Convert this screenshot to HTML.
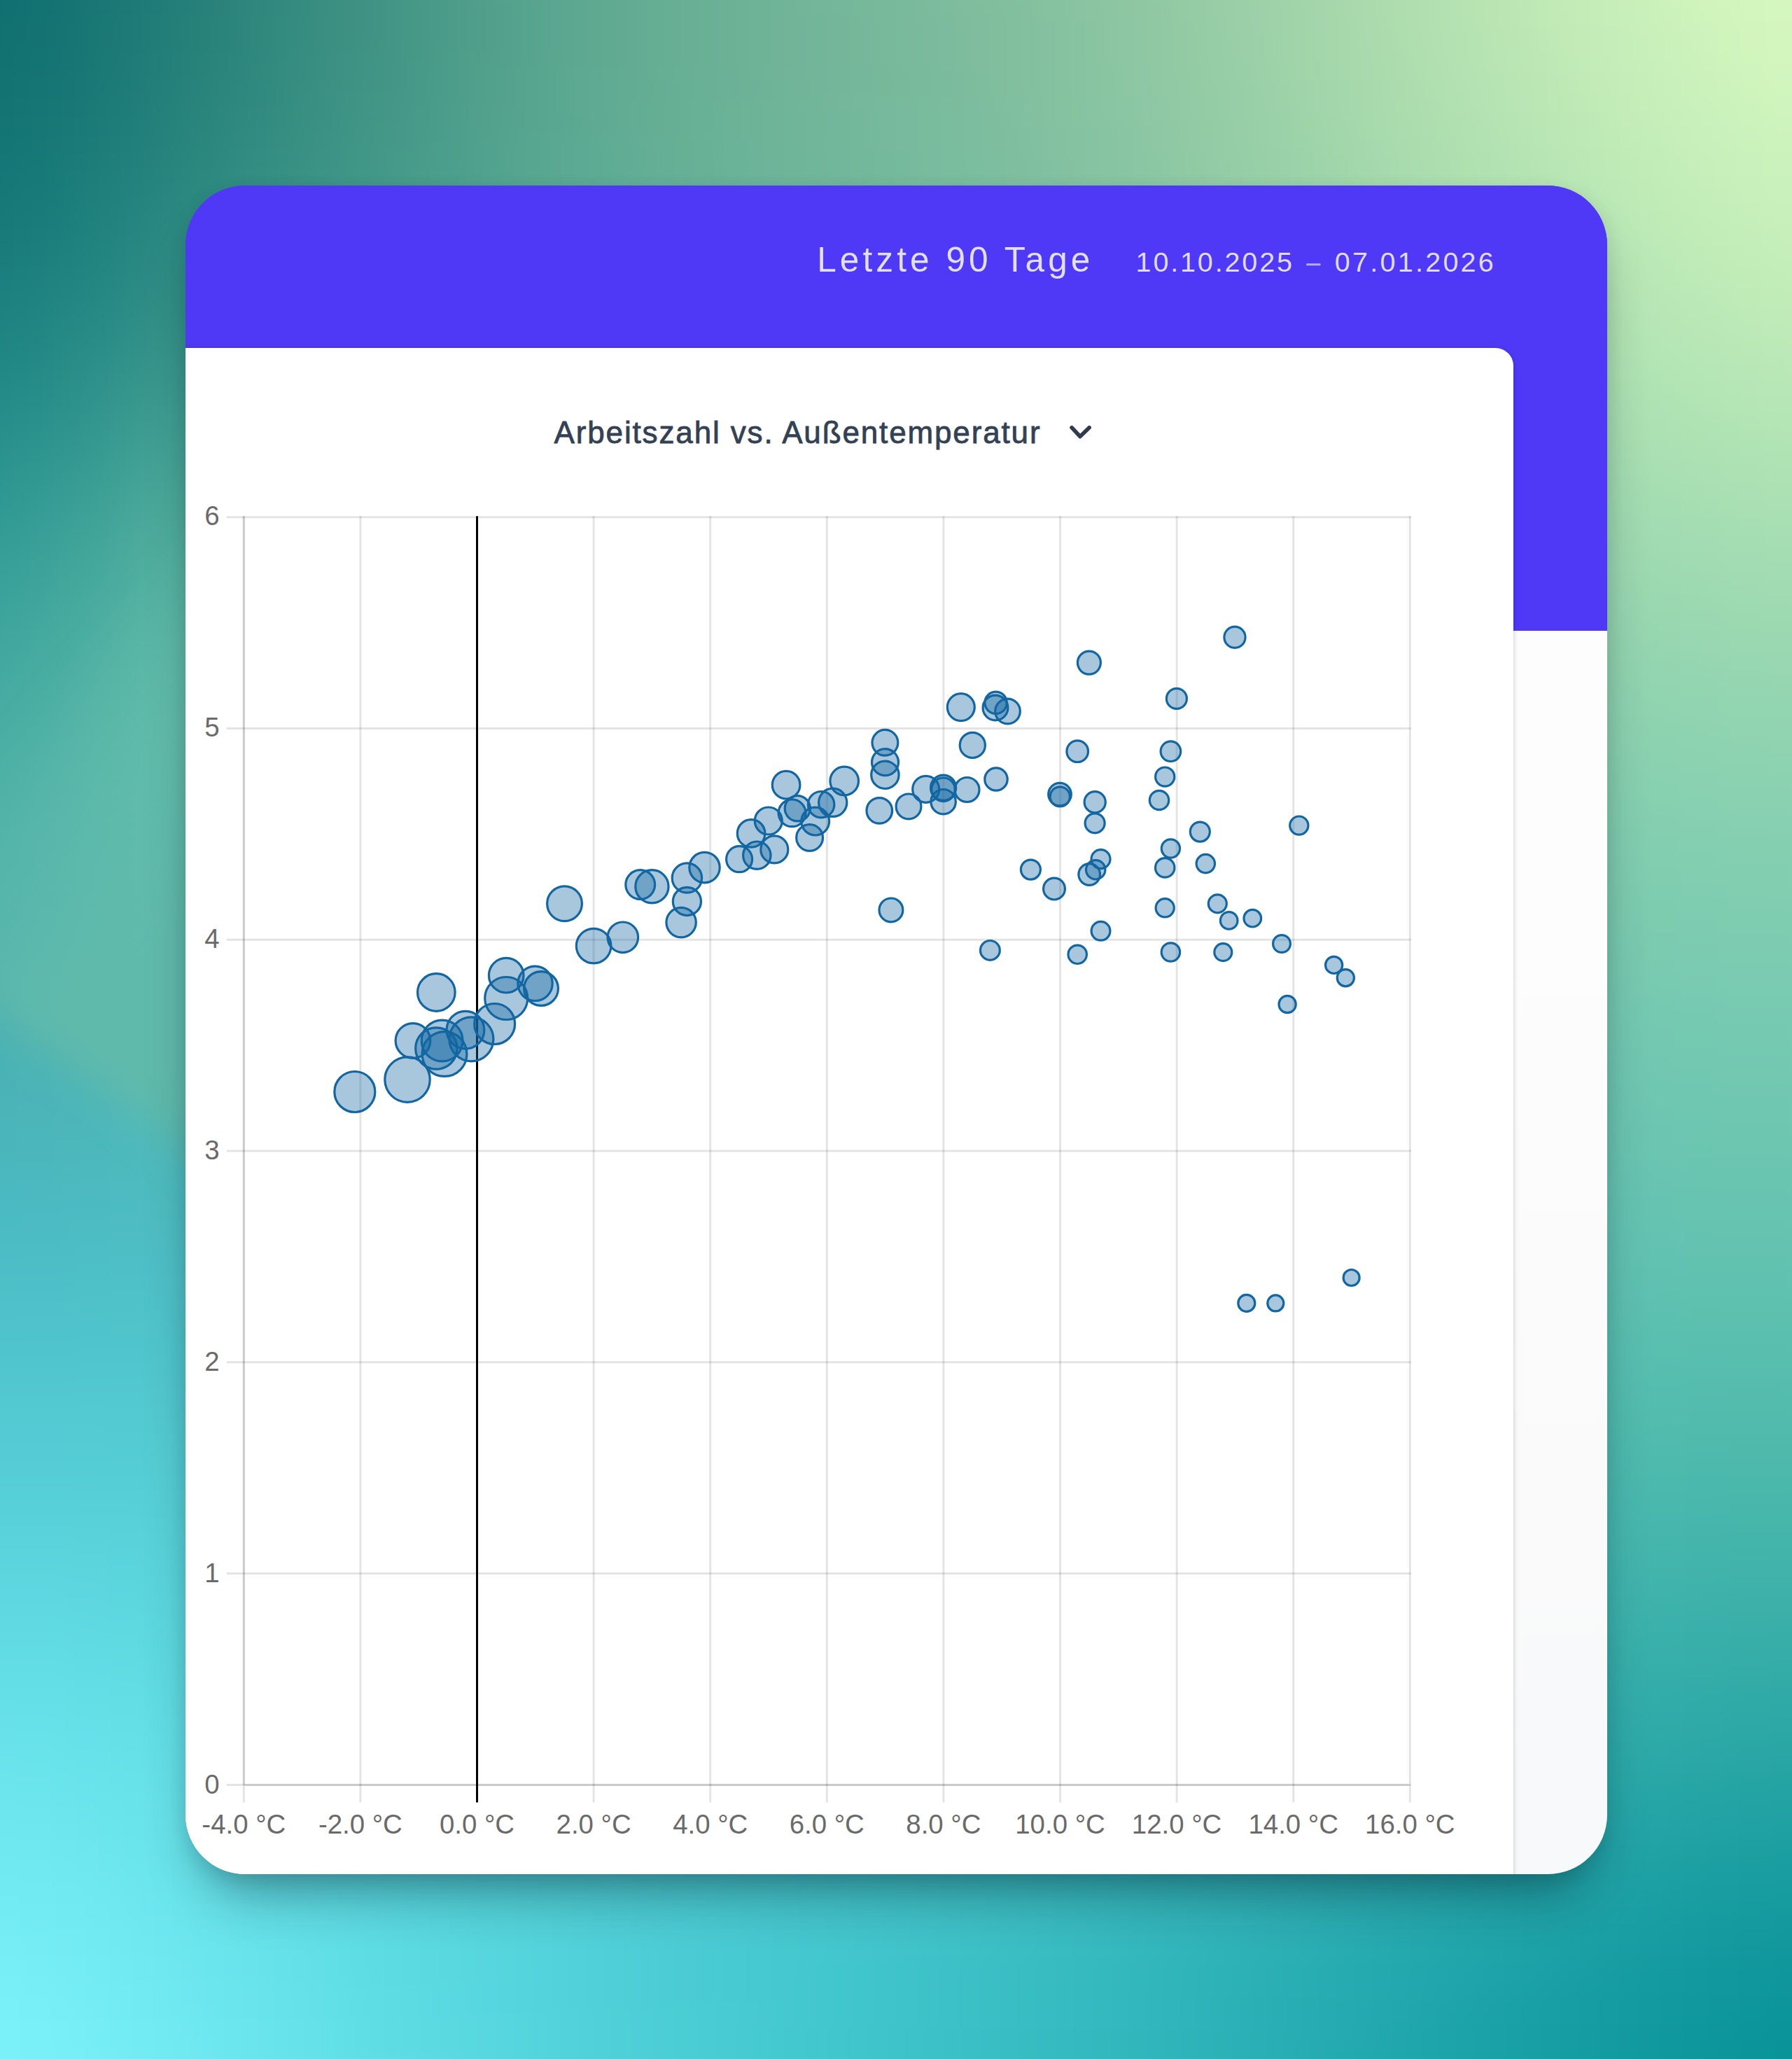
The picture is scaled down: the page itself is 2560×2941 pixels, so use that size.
<!DOCTYPE html>
<html lang="de">
<head>
<meta charset="utf-8">
<title>Arbeitszahl vs. Außentemperatur</title>
<style>
*{box-sizing:border-box;margin:0;padding:0}
html,body{width:2560px;height:2941px;overflow:hidden}
body{position:relative;font-family:"Liberation Sans",sans-serif;
background:#4fb0a8;
}
.bg{position:absolute;left:0;top:0;width:2560px;height:2941px;overflow:hidden}
.mesh{position:absolute;left:-480px;top:-480px;width:3520px;height:4061px;filter:blur(90px)}
.mesh i{position:absolute;display:block;width:161px;height:161px}
.blob{position:absolute;left:-300px;top:300px}
.card{position:absolute;left:264.5px;top:264.5px;width:2031px;height:2412.5px;border-radius:85px;overflow:hidden;
 background:linear-gradient(180deg,#4f39f6 0,#4f39f6 636.2px,#fdfdfd 636.2px,#fdfdfd 45%,#fafafb 75%,#f8f9fa 100%);
 box-shadow:0 48px 80px -28px rgba(0,25,35,0.46), 0 6px 26px rgba(0,25,35,0.10);}
.hero{position:absolute;left:0;top:0;width:100%;height:636.2px;background:#4f39f6}
.panel{position:absolute;left:-20px;top:232.9px;width:1917.8px;bottom:-20px;background:#fff;border-top-right-radius:25.6px;
 box-shadow:0 3px 10px rgba(0,0,0,0.13),0 1px 5px rgba(0,0,0,0.10)}
.h1{position:absolute;white-space:nowrap;color:#e2dffc;font-size:49.5px;line-height:1;letter-spacing:5.1px;left:1167.2px;top:346.1px}
.h2{position:absolute;white-space:nowrap;color:#e0ddfc;font-size:39.5px;line-height:1;letter-spacing:3.26px;left:1622.6px;top:355px}
.h2 b{font-weight:normal;position:absolute;top:0;left:0;letter-spacing:2.85px}
.h2 u{text-decoration:none;position:absolute;top:0;left:284.2px;letter-spacing:3.26px}
.h2 i{font-style:normal;position:absolute;left:243.8px;top:2.2px;font-size:35px;letter-spacing:0;color:rgba(255,255,255,0.57);-webkit-text-stroke:0.5px rgba(255,255,255,0.57)}
.title{position:absolute;white-space:nowrap;color:#334155;font-size:44px;line-height:1;left:791.5px;top:596px;letter-spacing:1.86px;-webkit-text-stroke:0.8px #334155}
.chev{position:absolute;left:1519px;top:595px}
.chart{position:absolute;left:0;top:0}
</style>
</head>
<body>
<div class="bg"><div class="mesh"><i style="left:0px;top:0px;background:rgb(12,108,110)"></i><i style="left:160px;top:0px;background:rgb(12,108,110)"></i><i style="left:320px;top:0px;background:rgb(12,108,110)"></i><i style="left:480px;top:0px;background:rgb(18,113,113)"></i><i style="left:640px;top:0px;background:rgb(33,124,119)"></i><i style="left:800px;top:0px;background:rgb(50,136,125)"></i><i style="left:960px;top:0px;background:rgb(67,149,132)"></i><i style="left:1120px;top:0px;background:rgb(85,162,140)"></i><i style="left:1280px;top:0px;background:rgb(99,171,146)"></i><i style="left:1440px;top:0px;background:rgb(109,177,150)"></i><i style="left:1600px;top:0px;background:rgb(118,183,154)"></i><i style="left:1760px;top:0px;background:rgb(126,188,157)"></i><i style="left:1920px;top:0px;background:rgb(136,194,160)"></i><i style="left:2080px;top:0px;background:rgb(148,202,164)"></i><i style="left:2240px;top:0px;background:rgb(162,212,169)"></i><i style="left:2400px;top:0px;background:rgb(176,222,175)"></i><i style="left:2560px;top:0px;background:rgb(190,232,180)"></i><i style="left:2720px;top:0px;background:rgb(202,240,186)"></i><i style="left:2880px;top:0px;background:rgb(213,247,190)"></i><i style="left:3040px;top:0px;background:rgb(218,250,192)"></i><i style="left:3200px;top:0px;background:rgb(218,250,192)"></i><i style="left:3360px;top:0px;background:rgb(218,250,192)"></i><i style="left:0px;top:160px;background:rgb(12,108,110)"></i><i style="left:160px;top:160px;background:rgb(12,108,110)"></i><i style="left:320px;top:160px;background:rgb(12,108,110)"></i><i style="left:480px;top:160px;background:rgb(18,113,113)"></i><i style="left:640px;top:160px;background:rgb(33,124,119)"></i><i style="left:800px;top:160px;background:rgb(50,136,125)"></i><i style="left:960px;top:160px;background:rgb(67,149,132)"></i><i style="left:1120px;top:160px;background:rgb(85,162,140)"></i><i style="left:1280px;top:160px;background:rgb(99,171,146)"></i><i style="left:1440px;top:160px;background:rgb(109,177,150)"></i><i style="left:1600px;top:160px;background:rgb(118,183,154)"></i><i style="left:1760px;top:160px;background:rgb(126,188,157)"></i><i style="left:1920px;top:160px;background:rgb(136,194,160)"></i><i style="left:2080px;top:160px;background:rgb(148,202,164)"></i><i style="left:2240px;top:160px;background:rgb(162,212,169)"></i><i style="left:2400px;top:160px;background:rgb(176,222,175)"></i><i style="left:2560px;top:160px;background:rgb(190,232,180)"></i><i style="left:2720px;top:160px;background:rgb(202,240,186)"></i><i style="left:2880px;top:160px;background:rgb(213,247,190)"></i><i style="left:3040px;top:160px;background:rgb(218,250,192)"></i><i style="left:3200px;top:160px;background:rgb(218,250,192)"></i><i style="left:3360px;top:160px;background:rgb(218,250,192)"></i><i style="left:0px;top:320px;background:rgb(12,108,110)"></i><i style="left:160px;top:320px;background:rgb(12,108,110)"></i><i style="left:320px;top:320px;background:rgb(12,108,110)"></i><i style="left:480px;top:320px;background:rgb(18,113,113)"></i><i style="left:640px;top:320px;background:rgb(33,124,119)"></i><i style="left:800px;top:320px;background:rgb(50,136,125)"></i><i style="left:960px;top:320px;background:rgb(67,149,132)"></i><i style="left:1120px;top:320px;background:rgb(85,162,140)"></i><i style="left:1280px;top:320px;background:rgb(99,171,146)"></i><i style="left:1440px;top:320px;background:rgb(109,177,150)"></i><i style="left:1600px;top:320px;background:rgb(118,183,154)"></i><i style="left:1760px;top:320px;background:rgb(126,188,157)"></i><i style="left:1920px;top:320px;background:rgb(136,194,160)"></i><i style="left:2080px;top:320px;background:rgb(148,202,164)"></i><i style="left:2240px;top:320px;background:rgb(162,212,169)"></i><i style="left:2400px;top:320px;background:rgb(176,222,175)"></i><i style="left:2560px;top:320px;background:rgb(190,232,180)"></i><i style="left:2720px;top:320px;background:rgb(202,240,186)"></i><i style="left:2880px;top:320px;background:rgb(213,247,190)"></i><i style="left:3040px;top:320px;background:rgb(218,250,192)"></i><i style="left:3200px;top:320px;background:rgb(218,250,192)"></i><i style="left:3360px;top:320px;background:rgb(218,250,192)"></i><i style="left:0px;top:480px;background:rgb(14,110,111)"></i><i style="left:160px;top:480px;background:rgb(14,110,111)"></i><i style="left:320px;top:480px;background:rgb(14,110,111)"></i><i style="left:480px;top:480px;background:rgb(20,115,114)"></i><i style="left:640px;top:480px;background:rgb(34,126,120)"></i><i style="left:800px;top:480px;background:rgb(51,138,126)"></i><i style="left:960px;top:480px;background:rgb(67,149,133)"></i><i style="left:1120px;top:480px;background:rgb(84,162,141)"></i><i style="left:1280px;top:480px;background:rgb(98,171,146)"></i><i style="left:1440px;top:480px;background:rgb(108,177,150)"></i><i style="left:1600px;top:480px;background:rgb(117,182,154)"></i><i style="left:1760px;top:480px;background:rgb(124,187,157)"></i><i style="left:1920px;top:480px;background:rgb(134,194,160)"></i><i style="left:2080px;top:480px;background:rgb(146,201,164)"></i><i style="left:2240px;top:480px;background:rgb(159,211,169)"></i><i style="left:2400px;top:480px;background:rgb(174,221,174)"></i><i style="left:2560px;top:480px;background:rgb(187,230,180)"></i><i style="left:2720px;top:480px;background:rgb(198,238,185)"></i><i style="left:2880px;top:480px;background:rgb(209,245,189)"></i><i style="left:3040px;top:480px;background:rgb(214,248,191)"></i><i style="left:3200px;top:480px;background:rgb(214,248,191)"></i><i style="left:3360px;top:480px;background:rgb(214,248,191)"></i><i style="left:0px;top:640px;background:rgb(17,116,117)"></i><i style="left:160px;top:640px;background:rgb(17,116,117)"></i><i style="left:320px;top:640px;background:rgb(17,116,117)"></i><i style="left:480px;top:640px;background:rgb(23,121,119)"></i><i style="left:640px;top:640px;background:rgb(38,132,125)"></i><i style="left:800px;top:640px;background:rgb(54,143,131)"></i><i style="left:960px;top:640px;background:rgb(68,153,136)"></i><i style="left:1120px;top:640px;background:rgb(84,164,143)"></i><i style="left:1280px;top:640px;background:rgb(96,173,148)"></i><i style="left:1440px;top:640px;background:rgb(106,178,152)"></i><i style="left:1600px;top:640px;background:rgb(114,183,155)"></i><i style="left:1760px;top:640px;background:rgb(121,188,158)"></i><i style="left:1920px;top:640px;background:rgb(130,193,161)"></i><i style="left:2080px;top:640px;background:rgb(142,200,164)"></i><i style="left:2240px;top:640px;background:rgb(154,209,168)"></i><i style="left:2400px;top:640px;background:rgb(168,219,174)"></i><i style="left:2560px;top:640px;background:rgb(180,227,178)"></i><i style="left:2720px;top:640px;background:rgb(191,235,183)"></i><i style="left:2880px;top:640px;background:rgb(201,241,187)"></i><i style="left:3040px;top:640px;background:rgb(206,244,189)"></i><i style="left:3200px;top:640px;background:rgb(206,244,189)"></i><i style="left:3360px;top:640px;background:rgb(206,244,189)"></i><i style="left:0px;top:800px;background:rgb(22,124,124)"></i><i style="left:160px;top:800px;background:rgb(22,124,124)"></i><i style="left:320px;top:800px;background:rgb(22,124,124)"></i><i style="left:480px;top:800px;background:rgb(29,129,127)"></i><i style="left:640px;top:800px;background:rgb(46,141,133)"></i><i style="left:800px;top:800px;background:rgb(61,151,137)"></i><i style="left:960px;top:800px;background:rgb(70,158,142)"></i><i style="left:1120px;top:800px;background:rgb(83,168,147)"></i><i style="left:1280px;top:800px;background:rgb(95,175,152)"></i><i style="left:1440px;top:800px;background:rgb(104,180,155)"></i><i style="left:1600px;top:800px;background:rgb(111,185,157)"></i><i style="left:1760px;top:800px;background:rgb(118,188,159)"></i><i style="left:1920px;top:800px;background:rgb(127,194,162)"></i><i style="left:2080px;top:800px;background:rgb(137,200,165)"></i><i style="left:2240px;top:800px;background:rgb(149,208,168)"></i><i style="left:2400px;top:800px;background:rgb(161,216,173)"></i><i style="left:2560px;top:800px;background:rgb(173,224,177)"></i><i style="left:2720px;top:800px;background:rgb(183,231,181)"></i><i style="left:2880px;top:800px;background:rgb(193,236,184)"></i><i style="left:3040px;top:800px;background:rgb(197,239,186)"></i><i style="left:3200px;top:800px;background:rgb(197,239,186)"></i><i style="left:3360px;top:800px;background:rgb(197,239,186)"></i><i style="left:0px;top:960px;background:rgb(31,135,134)"></i><i style="left:160px;top:960px;background:rgb(31,135,134)"></i><i style="left:320px;top:960px;background:rgb(31,135,134)"></i><i style="left:480px;top:960px;background:rgb(38,140,136)"></i><i style="left:640px;top:960px;background:rgb(60,154,143)"></i><i style="left:800px;top:960px;background:rgb(73,164,147)"></i><i style="left:960px;top:960px;background:rgb(76,166,149)"></i><i style="left:1120px;top:960px;background:rgb(85,173,153)"></i><i style="left:1280px;top:960px;background:rgb(95,179,156)"></i><i style="left:1440px;top:960px;background:rgb(103,183,159)"></i><i style="left:1600px;top:960px;background:rgb(109,187,161)"></i><i style="left:1760px;top:960px;background:rgb(116,190,162)"></i><i style="left:1920px;top:960px;background:rgb(123,194,164)"></i><i style="left:2080px;top:960px;background:rgb(132,199,166)"></i><i style="left:2240px;top:960px;background:rgb(143,206,169)"></i><i style="left:2400px;top:960px;background:rgb(154,214,172)"></i><i style="left:2560px;top:960px;background:rgb(164,220,176)"></i><i style="left:2720px;top:960px;background:rgb(174,226,179)"></i><i style="left:2880px;top:960px;background:rgb(182,230,181)"></i><i style="left:3040px;top:960px;background:rgb(186,233,183)"></i><i style="left:3200px;top:960px;background:rgb(186,233,183)"></i><i style="left:3360px;top:960px;background:rgb(186,233,183)"></i><i style="left:0px;top:1120px;background:rgb(43,149,145)"></i><i style="left:160px;top:1120px;background:rgb(43,149,145)"></i><i style="left:320px;top:1120px;background:rgb(43,149,145)"></i><i style="left:480px;top:1120px;background:rgb(52,155,148)"></i><i style="left:640px;top:1120px;background:rgb(78,171,155)"></i><i style="left:800px;top:1120px;background:rgb(90,179,158)"></i><i style="left:960px;top:1120px;background:rgb(84,177,158)"></i><i style="left:2400px;top:1120px;background:rgb(146,210,172)"></i><i style="left:2560px;top:1120px;background:rgb(154,215,175)"></i><i style="left:2720px;top:1120px;background:rgb(162,220,177)"></i><i style="left:2880px;top:1120px;background:rgb(169,223,179)"></i><i style="left:3040px;top:1120px;background:rgb(172,225,180)"></i><i style="left:3200px;top:1120px;background:rgb(172,225,180)"></i><i style="left:3360px;top:1120px;background:rgb(172,225,180)"></i><i style="left:0px;top:1280px;background:rgb(56,162,155)"></i><i style="left:160px;top:1280px;background:rgb(56,162,155)"></i><i style="left:320px;top:1280px;background:rgb(56,162,155)"></i><i style="left:480px;top:1280px;background:rgb(65,167,158)"></i><i style="left:640px;top:1280px;background:rgb(92,184,165)"></i><i style="left:800px;top:1280px;background:rgb(103,191,167)"></i><i style="left:960px;top:1280px;background:rgb(92,185,165)"></i><i style="left:2400px;top:1280px;background:rgb(138,207,173)"></i><i style="left:2560px;top:1280px;background:rgb(145,211,174)"></i><i style="left:2720px;top:1280px;background:rgb(151,214,176)"></i><i style="left:2880px;top:1280px;background:rgb(156,217,177)"></i><i style="left:3040px;top:1280px;background:rgb(159,218,178)"></i><i style="left:3200px;top:1280px;background:rgb(159,218,178)"></i><i style="left:3360px;top:1280px;background:rgb(159,218,178)"></i><i style="left:0px;top:1440px;background:rgb(70,171,162)"></i><i style="left:160px;top:1440px;background:rgb(70,171,162)"></i><i style="left:320px;top:1440px;background:rgb(70,171,162)"></i><i style="left:480px;top:1440px;background:rgb(77,176,165)"></i><i style="left:640px;top:1440px;background:rgb(101,191,170)"></i><i style="left:800px;top:1440px;background:rgb(109,196,172)"></i><i style="left:960px;top:1440px;background:rgb(98,191,170)"></i><i style="left:2400px;top:1440px;background:rgb(130,205,174)"></i><i style="left:2560px;top:1440px;background:rgb(135,208,175)"></i><i style="left:2720px;top:1440px;background:rgb(140,210,176)"></i><i style="left:2880px;top:1440px;background:rgb(144,212,177)"></i><i style="left:3040px;top:1440px;background:rgb(146,212,177)"></i><i style="left:3200px;top:1440px;background:rgb(146,212,177)"></i><i style="left:3360px;top:1440px;background:rgb(146,212,177)"></i><i style="left:0px;top:1600px;background:rgb(77,177,168)"></i><i style="left:160px;top:1600px;background:rgb(77,177,168)"></i><i style="left:320px;top:1600px;background:rgb(77,177,168)"></i><i style="left:480px;top:1600px;background:rgb(82,180,170)"></i><i style="left:640px;top:1600px;background:rgb(99,191,174)"></i><i style="left:800px;top:1600px;background:rgb(105,195,175)"></i><i style="left:960px;top:1600px;background:rgb(98,192,174)"></i><i style="left:2400px;top:1600px;background:rgb(122,202,175)"></i><i style="left:2560px;top:1600px;background:rgb(126,204,175)"></i><i style="left:2720px;top:1600px;background:rgb(130,206,176)"></i><i style="left:2880px;top:1600px;background:rgb(133,207,177)"></i><i style="left:3040px;top:1600px;background:rgb(134,208,177)"></i><i style="left:3200px;top:1600px;background:rgb(134,208,177)"></i><i style="left:3360px;top:1600px;background:rgb(134,208,177)"></i><i style="left:0px;top:1760px;background:rgb(74,175,173)"></i><i style="left:160px;top:1760px;background:rgb(74,175,173)"></i><i style="left:320px;top:1760px;background:rgb(74,175,173)"></i><i style="left:480px;top:1760px;background:rgb(78,178,174)"></i><i style="left:640px;top:1760px;background:rgb(87,185,177)"></i><i style="left:800px;top:1760px;background:rgb(92,188,177)"></i><i style="left:960px;top:1760px;background:rgb(91,188,177)"></i><i style="left:2400px;top:1760px;background:rgb(115,199,176)"></i><i style="left:2560px;top:1760px;background:rgb(118,201,176)"></i><i style="left:2720px;top:1760px;background:rgb(121,202,176)"></i><i style="left:2880px;top:1760px;background:rgb(124,204,177)"></i><i style="left:3040px;top:1760px;background:rgb(125,204,177)"></i><i style="left:3200px;top:1760px;background:rgb(125,204,177)"></i><i style="left:3360px;top:1760px;background:rgb(125,204,177)"></i><i style="left:0px;top:1920px;background:rgb(73,176,179)"></i><i style="left:160px;top:1920px;background:rgb(73,176,179)"></i><i style="left:320px;top:1920px;background:rgb(73,176,179)"></i><i style="left:480px;top:1920px;background:rgb(75,178,180)"></i><i style="left:640px;top:1920px;background:rgb(80,183,181)"></i><i style="left:800px;top:1920px;background:rgb(83,185,181)"></i><i style="left:960px;top:1920px;background:rgb(85,187,181)"></i><i style="left:2400px;top:1920px;background:rgb(107,196,177)"></i><i style="left:2560px;top:1920px;background:rgb(110,198,177)"></i><i style="left:2720px;top:1920px;background:rgb(113,199,177)"></i><i style="left:2880px;top:1920px;background:rgb(115,200,177)"></i><i style="left:3040px;top:1920px;background:rgb(116,201,177)"></i><i style="left:3200px;top:1920px;background:rgb(116,201,177)"></i><i style="left:3360px;top:1920px;background:rgb(116,201,177)"></i><i style="left:0px;top:2080px;background:rgb(73,183,190)"></i><i style="left:160px;top:2080px;background:rgb(73,183,190)"></i><i style="left:320px;top:2080px;background:rgb(73,183,190)"></i><i style="left:480px;top:2080px;background:rgb(75,184,191)"></i><i style="left:640px;top:2080px;background:rgb(78,187,191)"></i><i style="left:800px;top:2080px;background:rgb(80,189,190)"></i><i style="left:960px;top:2080px;background:rgb(82,190,189)"></i><i style="left:2400px;top:2080px;background:rgb(100,195,179)"></i><i style="left:2560px;top:2080px;background:rgb(102,196,178)"></i><i style="left:2720px;top:2080px;background:rgb(104,196,177)"></i><i style="left:2880px;top:2080px;background:rgb(106,197,176)"></i><i style="left:3040px;top:2080px;background:rgb(107,198,176)"></i><i style="left:3200px;top:2080px;background:rgb(107,198,176)"></i><i style="left:3360px;top:2080px;background:rgb(107,198,176)"></i><i style="left:0px;top:2240px;background:rgb(76,190,200)"></i><i style="left:160px;top:2240px;background:rgb(76,190,200)"></i><i style="left:320px;top:2240px;background:rgb(76,190,200)"></i><i style="left:480px;top:2240px;background:rgb(77,191,200)"></i><i style="left:640px;top:2240px;background:rgb(78,193,200)"></i><i style="left:800px;top:2240px;background:rgb(79,193,198)"></i><i style="left:960px;top:2240px;background:rgb(80,194,196)"></i><i style="left:2400px;top:2240px;background:rgb(92,193,180)"></i><i style="left:2560px;top:2240px;background:rgb(94,193,178)"></i><i style="left:2720px;top:2240px;background:rgb(95,193,177)"></i><i style="left:2880px;top:2240px;background:rgb(96,193,176)"></i><i style="left:3040px;top:2240px;background:rgb(97,194,175)"></i><i style="left:3200px;top:2240px;background:rgb(97,194,175)"></i><i style="left:3360px;top:2240px;background:rgb(97,194,175)"></i><i style="left:0px;top:2400px;background:rgb(81,199,209)"></i><i style="left:160px;top:2400px;background:rgb(81,199,209)"></i><i style="left:320px;top:2400px;background:rgb(81,199,209)"></i><i style="left:480px;top:2400px;background:rgb(82,200,209)"></i><i style="left:640px;top:2400px;background:rgb(82,200,207)"></i><i style="left:800px;top:2400px;background:rgb(81,200,205)"></i><i style="left:960px;top:2400px;background:rgb(81,199,202)"></i><i style="left:2400px;top:2400px;background:rgb(83,191,180)"></i><i style="left:2560px;top:2400px;background:rgb(84,190,177)"></i><i style="left:2720px;top:2400px;background:rgb(84,189,175)"></i><i style="left:2880px;top:2400px;background:rgb(84,188,173)"></i><i style="left:3040px;top:2400px;background:rgb(84,188,173)"></i><i style="left:3200px;top:2400px;background:rgb(84,188,173)"></i><i style="left:3360px;top:2400px;background:rgb(84,188,173)"></i><i style="left:0px;top:2560px;background:rgb(88,208,218)"></i><i style="left:160px;top:2560px;background:rgb(88,208,218)"></i><i style="left:320px;top:2560px;background:rgb(88,208,218)"></i><i style="left:480px;top:2560px;background:rgb(88,208,217)"></i><i style="left:640px;top:2560px;background:rgb(87,208,215)"></i><i style="left:800px;top:2560px;background:rgb(84,206,212)"></i><i style="left:960px;top:2560px;background:rgb(83,205,209)"></i><i style="left:2400px;top:2560px;background:rgb(75,188,180)"></i><i style="left:2560px;top:2560px;background:rgb(74,186,177)"></i><i style="left:2720px;top:2560px;background:rgb(73,184,174)"></i><i style="left:2880px;top:2560px;background:rgb(72,183,171)"></i><i style="left:3040px;top:2560px;background:rgb(72,182,170)"></i><i style="left:3200px;top:2560px;background:rgb(72,182,170)"></i><i style="left:3360px;top:2560px;background:rgb(72,182,170)"></i><i style="left:0px;top:2720px;background:rgb(97,218,227)"></i><i style="left:160px;top:2720px;background:rgb(97,218,227)"></i><i style="left:320px;top:2720px;background:rgb(97,218,227)"></i><i style="left:480px;top:2720px;background:rgb(96,218,226)"></i><i style="left:640px;top:2720px;background:rgb(93,216,223)"></i><i style="left:800px;top:2720px;background:rgb(89,213,219)"></i><i style="left:960px;top:2720px;background:rgb(86,210,215)"></i><i style="left:2400px;top:2720px;background:rgb(65,183,180)"></i><i style="left:2560px;top:2720px;background:rgb(62,181,176)"></i><i style="left:2720px;top:2720px;background:rgb(60,178,172)"></i><i style="left:2880px;top:2720px;background:rgb(58,175,169)"></i><i style="left:3040px;top:2720px;background:rgb(57,174,168)"></i><i style="left:3200px;top:2720px;background:rgb(57,174,168)"></i><i style="left:3360px;top:2720px;background:rgb(57,174,168)"></i><i style="left:0px;top:2880px;background:rgb(105,227,235)"></i><i style="left:160px;top:2880px;background:rgb(105,227,235)"></i><i style="left:320px;top:2880px;background:rgb(105,227,235)"></i><i style="left:480px;top:2880px;background:rgb(104,226,234)"></i><i style="left:640px;top:2880px;background:rgb(100,223,230)"></i><i style="left:800px;top:2880px;background:rgb(93,219,225)"></i><i style="left:960px;top:2880px;background:rgb(88,215,220)"></i><i style="left:1120px;top:2880px;background:rgb(85,211,216)"></i><i style="left:1280px;top:2880px;background:rgb(81,207,212)"></i><i style="left:1440px;top:2880px;background:rgb(77,204,208)"></i><i style="left:1600px;top:2880px;background:rgb(73,200,204)"></i><i style="left:1760px;top:2880px;background:rgb(70,197,199)"></i><i style="left:1920px;top:2880px;background:rgb(66,193,194)"></i><i style="left:2080px;top:2880px;background:rgb(63,188,189)"></i><i style="left:2240px;top:2880px;background:rgb(59,183,184)"></i><i style="left:2400px;top:2880px;background:rgb(55,179,179)"></i><i style="left:2560px;top:2880px;background:rgb(51,175,174)"></i><i style="left:2720px;top:2880px;background:rgb(47,171,170)"></i><i style="left:2880px;top:2880px;background:rgb(44,168,166)"></i><i style="left:3040px;top:2880px;background:rgb(42,166,165)"></i><i style="left:3200px;top:2880px;background:rgb(42,166,165)"></i><i style="left:3360px;top:2880px;background:rgb(42,166,165)"></i><i style="left:0px;top:3040px;background:rgb(113,233,241)"></i><i style="left:160px;top:3040px;background:rgb(113,233,241)"></i><i style="left:320px;top:3040px;background:rgb(113,233,241)"></i><i style="left:480px;top:3040px;background:rgb(111,232,239)"></i><i style="left:640px;top:3040px;background:rgb(105,228,235)"></i><i style="left:800px;top:3040px;background:rgb(97,222,229)"></i><i style="left:960px;top:3040px;background:rgb(90,217,224)"></i><i style="left:1120px;top:3040px;background:rgb(85,212,218)"></i><i style="left:1280px;top:3040px;background:rgb(80,207,213)"></i><i style="left:1440px;top:3040px;background:rgb(74,203,209)"></i><i style="left:1600px;top:3040px;background:rgb(70,199,204)"></i><i style="left:1760px;top:3040px;background:rgb(65,195,199)"></i><i style="left:1920px;top:3040px;background:rgb(60,190,194)"></i><i style="left:2080px;top:3040px;background:rgb(55,184,188)"></i><i style="left:2240px;top:3040px;background:rgb(50,178,182)"></i><i style="left:2400px;top:3040px;background:rgb(44,173,176)"></i><i style="left:2560px;top:3040px;background:rgb(39,168,171)"></i><i style="left:2720px;top:3040px;background:rgb(34,163,166)"></i><i style="left:2880px;top:3040px;background:rgb(29,159,162)"></i><i style="left:3040px;top:3040px;background:rgb(27,158,160)"></i><i style="left:3200px;top:3040px;background:rgb(27,158,160)"></i><i style="left:3360px;top:3040px;background:rgb(27,158,160)"></i><i style="left:0px;top:3200px;background:rgb(121,239,247)"></i><i style="left:160px;top:3200px;background:rgb(121,239,247)"></i><i style="left:320px;top:3200px;background:rgb(121,239,247)"></i><i style="left:480px;top:3200px;background:rgb(118,237,245)"></i><i style="left:640px;top:3200px;background:rgb(111,232,240)"></i><i style="left:800px;top:3200px;background:rgb(101,225,233)"></i><i style="left:960px;top:3200px;background:rgb(92,219,227)"></i><i style="left:1120px;top:3200px;background:rgb(85,213,220)"></i><i style="left:1280px;top:3200px;background:rgb(79,207,215)"></i><i style="left:1440px;top:3200px;background:rgb(72,202,210)"></i><i style="left:1600px;top:3200px;background:rgb(66,198,205)"></i><i style="left:1760px;top:3200px;background:rgb(61,193,199)"></i><i style="left:1920px;top:3200px;background:rgb(55,187,193)"></i><i style="left:2080px;top:3200px;background:rgb(48,181,187)"></i><i style="left:2240px;top:3200px;background:rgb(42,174,180)"></i><i style="left:2400px;top:3200px;background:rgb(35,168,174)"></i><i style="left:2560px;top:3200px;background:rgb(28,162,168)"></i><i style="left:2720px;top:3200px;background:rgb(21,156,162)"></i><i style="left:2880px;top:3200px;background:rgb(16,151,157)"></i><i style="left:3040px;top:3200px;background:rgb(13,149,155)"></i><i style="left:3200px;top:3200px;background:rgb(13,149,155)"></i><i style="left:3360px;top:3200px;background:rgb(13,149,155)"></i><i style="left:0px;top:3360px;background:rgb(126,242,250)"></i><i style="left:160px;top:3360px;background:rgb(126,242,250)"></i><i style="left:320px;top:3360px;background:rgb(126,242,250)"></i><i style="left:480px;top:3360px;background:rgb(123,240,248)"></i><i style="left:640px;top:3360px;background:rgb(115,235,243)"></i><i style="left:800px;top:3360px;background:rgb(104,228,236)"></i><i style="left:960px;top:3360px;background:rgb(94,221,229)"></i><i style="left:1120px;top:3360px;background:rgb(86,214,222)"></i><i style="left:1280px;top:3360px;background:rgb(79,208,216)"></i><i style="left:1440px;top:3360px;background:rgb(72,203,210)"></i><i style="left:1600px;top:3360px;background:rgb(65,198,205)"></i><i style="left:1760px;top:3360px;background:rgb(59,192,199)"></i><i style="left:1920px;top:3360px;background:rgb(52,186,192)"></i><i style="left:2080px;top:3360px;background:rgb(46,180,186)"></i><i style="left:2240px;top:3360px;background:rgb(38,172,178)"></i><i style="left:2400px;top:3360px;background:rgb(30,166,172)"></i><i style="left:2560px;top:3360px;background:rgb(22,159,165)"></i><i style="left:2720px;top:3360px;background:rgb(16,153,159)"></i><i style="left:2880px;top:3360px;background:rgb(9,148,154)"></i><i style="left:3040px;top:3360px;background:rgb(6,146,152)"></i><i style="left:3200px;top:3360px;background:rgb(6,146,152)"></i><i style="left:3360px;top:3360px;background:rgb(6,146,152)"></i><i style="left:0px;top:3520px;background:rgb(126,242,250)"></i><i style="left:160px;top:3520px;background:rgb(126,242,250)"></i><i style="left:320px;top:3520px;background:rgb(126,242,250)"></i><i style="left:480px;top:3520px;background:rgb(123,240,248)"></i><i style="left:640px;top:3520px;background:rgb(115,235,243)"></i><i style="left:800px;top:3520px;background:rgb(104,228,236)"></i><i style="left:960px;top:3520px;background:rgb(94,221,229)"></i><i style="left:1120px;top:3520px;background:rgb(86,214,222)"></i><i style="left:1280px;top:3520px;background:rgb(79,208,216)"></i><i style="left:1440px;top:3520px;background:rgb(72,203,210)"></i><i style="left:1600px;top:3520px;background:rgb(65,198,205)"></i><i style="left:1760px;top:3520px;background:rgb(59,192,199)"></i><i style="left:1920px;top:3520px;background:rgb(52,186,192)"></i><i style="left:2080px;top:3520px;background:rgb(46,180,186)"></i><i style="left:2240px;top:3520px;background:rgb(38,172,178)"></i><i style="left:2400px;top:3520px;background:rgb(30,166,172)"></i><i style="left:2560px;top:3520px;background:rgb(22,159,165)"></i><i style="left:2720px;top:3520px;background:rgb(16,153,159)"></i><i style="left:2880px;top:3520px;background:rgb(9,148,154)"></i><i style="left:3040px;top:3520px;background:rgb(6,146,152)"></i><i style="left:3200px;top:3520px;background:rgb(6,146,152)"></i><i style="left:3360px;top:3520px;background:rgb(6,146,152)"></i><i style="left:0px;top:3680px;background:rgb(126,242,250)"></i><i style="left:160px;top:3680px;background:rgb(126,242,250)"></i><i style="left:320px;top:3680px;background:rgb(126,242,250)"></i><i style="left:480px;top:3680px;background:rgb(123,240,248)"></i><i style="left:640px;top:3680px;background:rgb(115,235,243)"></i><i style="left:800px;top:3680px;background:rgb(104,228,236)"></i><i style="left:960px;top:3680px;background:rgb(94,221,229)"></i><i style="left:1120px;top:3680px;background:rgb(86,214,222)"></i><i style="left:1280px;top:3680px;background:rgb(79,208,216)"></i><i style="left:1440px;top:3680px;background:rgb(72,203,210)"></i><i style="left:1600px;top:3680px;background:rgb(65,198,205)"></i><i style="left:1760px;top:3680px;background:rgb(59,192,199)"></i><i style="left:1920px;top:3680px;background:rgb(52,186,192)"></i><i style="left:2080px;top:3680px;background:rgb(46,180,186)"></i><i style="left:2240px;top:3680px;background:rgb(38,172,178)"></i><i style="left:2400px;top:3680px;background:rgb(30,166,172)"></i><i style="left:2560px;top:3680px;background:rgb(22,159,165)"></i><i style="left:2720px;top:3680px;background:rgb(16,153,159)"></i><i style="left:2880px;top:3680px;background:rgb(9,148,154)"></i><i style="left:3040px;top:3680px;background:rgb(6,146,152)"></i><i style="left:3200px;top:3680px;background:rgb(6,146,152)"></i><i style="left:3360px;top:3680px;background:rgb(6,146,152)"></i><i style="left:0px;top:3840px;background:rgb(126,242,250)"></i><i style="left:160px;top:3840px;background:rgb(126,242,250)"></i><i style="left:320px;top:3840px;background:rgb(126,242,250)"></i><i style="left:480px;top:3840px;background:rgb(123,240,248)"></i><i style="left:640px;top:3840px;background:rgb(115,235,243)"></i><i style="left:800px;top:3840px;background:rgb(104,228,236)"></i><i style="left:960px;top:3840px;background:rgb(94,221,229)"></i><i style="left:1120px;top:3840px;background:rgb(86,214,222)"></i><i style="left:1280px;top:3840px;background:rgb(79,208,216)"></i><i style="left:1440px;top:3840px;background:rgb(72,203,210)"></i><i style="left:1600px;top:3840px;background:rgb(65,198,205)"></i><i style="left:1760px;top:3840px;background:rgb(59,192,199)"></i><i style="left:1920px;top:3840px;background:rgb(52,186,192)"></i><i style="left:2080px;top:3840px;background:rgb(46,180,186)"></i><i style="left:2240px;top:3840px;background:rgb(38,172,178)"></i><i style="left:2400px;top:3840px;background:rgb(30,166,172)"></i><i style="left:2560px;top:3840px;background:rgb(22,159,165)"></i><i style="left:2720px;top:3840px;background:rgb(16,153,159)"></i><i style="left:2880px;top:3840px;background:rgb(9,148,154)"></i><i style="left:3040px;top:3840px;background:rgb(6,146,152)"></i><i style="left:3200px;top:3840px;background:rgb(6,146,152)"></i><i style="left:3360px;top:3840px;background:rgb(6,146,152)"></i></div><svg class="blob" width="900" height="2000" viewBox="-300 300 900 2000">
<defs><linearGradient id="bg1" gradientUnits="userSpaceOnUse" x1="0" y1="1076" x2="230" y2="1276"><stop offset="0" stop-color="rgb(97,187,171)" stop-opacity="0"/><stop offset="1" stop-color="rgb(97,187,171)" stop-opacity="0.92"/></linearGradient>
<filter id="bf" x="-20%" y="-20%" width="140%" height="140%"><feGaussianBlur stdDeviation="28"/></filter></defs>
<polygon points="-200,1306 560,432 560,1852" fill="url(#bg1)" filter="url(#bf)"/></svg></div>
<div class="card">
  <div class="hero"></div>
  <div class="panel"></div>
</div>
<div class="h1">Letzte 90 Tage</div>
<div class="h2"><b>10.10.2025</b><i>–</i><u>07.01.2026</u></div>
<div class="title">Arbeitszahl vs. Außentemperatur</div>
<svg class="chev" width="48" height="48" viewBox="0 0 48 48"><path d="M12 15.7 L24 28.5 L37.1 15.7" fill="none" stroke="#303b4f" stroke-width="5.6" stroke-linecap="round" stroke-linejoin="round"/></svg>
<svg class="chart" width="2560" height="2941" viewBox="0 0 2560 2941">
<g stroke="rgba(0,0,0,0.106)" stroke-width="3.0" fill="none">
<line x1="323.6" y1="738.70" x2="2015.80" y2="738.70"/>
<line x1="323.6" y1="1040.48" x2="2015.80" y2="1040.48"/>
<line x1="323.6" y1="1342.27" x2="2015.80" y2="1342.27"/>
<line x1="323.6" y1="1644.05" x2="2015.80" y2="1644.05"/>
<line x1="323.6" y1="1945.83" x2="2015.80" y2="1945.83"/>
<line x1="323.6" y1="2247.62" x2="2015.80" y2="2247.62"/>
<line x1="323.6" y1="2549.40" x2="2015.80" y2="2549.40"/>
<line x1="348.30" y1="737.20" x2="348.30" y2="2574.4"/>
<line x1="514.90" y1="737.20" x2="514.90" y2="2574.4"/>
<line x1="848.10" y1="737.20" x2="848.10" y2="2574.4"/>
<line x1="1014.70" y1="737.20" x2="1014.70" y2="2574.4"/>
<line x1="1181.30" y1="737.20" x2="1181.30" y2="2574.4"/>
<line x1="1347.90" y1="737.20" x2="1347.90" y2="2574.4"/>
<line x1="1514.50" y1="737.20" x2="1514.50" y2="2574.4"/>
<line x1="1681.10" y1="737.20" x2="1681.10" y2="2574.4"/>
<line x1="1847.70" y1="737.20" x2="1847.70" y2="2574.4"/>
<line x1="2014.30" y1="737.20" x2="2014.30" y2="2574.4"/>
</g>
<path d="M348.30 737.20 V2549.40 M349.80 2549.40 H2012.80" stroke="rgba(0,0,0,0.112)" stroke-width="3.0" fill="none"/>
<line x1="681.50" y1="737.20" x2="681.50" y2="2574.4" stroke="#000" stroke-width="3.0"/>
<g fill="rgba(18,102,162,0.37)" stroke="#1266a2" stroke-width="3.2">
<circle cx="506.8" cy="1559.5" r="29.0"/>
<circle cx="582" cy="1542.1" r="32.2"/>
<circle cx="589.9" cy="1486.5" r="24.8"/>
<circle cx="623.3" cy="1417.5" r="26.8"/>
<circle cx="631.6" cy="1486.5" r="29.4"/>
<circle cx="623.3" cy="1497.5" r="29.7"/>
<circle cx="635" cy="1505.5" r="31.9"/>
<circle cx="664.9" cy="1471.2" r="26.9"/>
<circle cx="673.4" cy="1484.3" r="31.5"/>
<circle cx="706.6" cy="1462.5" r="29.0"/>
<circle cx="723.2" cy="1426" r="30.5"/>
<circle cx="723.2" cy="1393.2" r="24.8"/>
<circle cx="764.5" cy="1404.8" r="24.7"/>
<circle cx="773" cy="1412" r="24.4"/>
<circle cx="806.5" cy="1290.8" r="24.9"/>
<circle cx="848.1" cy="1351.1" r="24.8"/>
<circle cx="889.8" cy="1338.8" r="21.8"/>
<circle cx="914.7" cy="1263.6" r="20.9"/>
<circle cx="931.4" cy="1266.3" r="23.6"/>
<circle cx="981.4" cy="1254" r="21.2"/>
<circle cx="981.4" cy="1287.5" r="20.1"/>
<circle cx="973.1" cy="1317.6" r="21.2"/>
<circle cx="1006.5" cy="1239.1" r="21.7"/>
<circle cx="1056.1" cy="1227.2" r="18.5"/>
<circle cx="1081.3" cy="1221.7" r="19.7"/>
<circle cx="1073.1" cy="1190.4" r="19.8"/>
<circle cx="1106.3" cy="1213.4" r="19.5"/>
<circle cx="1097.8" cy="1172.5" r="19.5"/>
<circle cx="1123.1" cy="1121.2" r="19.8"/>
<circle cx="1131.5" cy="1161.3" r="19.4"/>
<circle cx="1139.3" cy="1154.8" r="18.1"/>
<circle cx="1156.6" cy="1196.5" r="18.9"/>
<circle cx="1164.7" cy="1173.1" r="19.9"/>
<circle cx="1173.1" cy="1149.2" r="18.7"/>
<circle cx="1189.7" cy="1146.3" r="20.1"/>
<circle cx="1206.2" cy="1115.5" r="20.3"/>
<circle cx="1264.4" cy="1060.8" r="18.4"/>
<circle cx="1264.5" cy="1088.7" r="19.0"/>
<circle cx="1264.4" cy="1106.8" r="19.7"/>
<circle cx="1256.3" cy="1157.9" r="18.3"/>
<circle cx="1298" cy="1151.9" r="17.9"/>
<circle cx="1322.7" cy="1127.3" r="19.0"/>
<circle cx="1347.6" cy="1145.2" r="17.7"/>
<circle cx="1347.6" cy="1125.3" r="18.1"/>
<circle cx="1347.6" cy="1127.8" r="16.8"/>
<circle cx="1381.5" cy="1128" r="17.5"/>
<circle cx="1423" cy="1113" r="16.2"/>
<circle cx="1389.3" cy="1064.4" r="18.1"/>
<circle cx="1372.8" cy="1010.1" r="19.5"/>
<circle cx="1422" cy="1011" r="17.9"/>
<circle cx="1422.6" cy="1003.8" r="15.7"/>
<circle cx="1439.5" cy="1016" r="17.8"/>
<circle cx="1555.9" cy="946.6" r="16.5"/>
<circle cx="1764" cy="910.2" r="15.1"/>
<circle cx="1680.9" cy="997.9" r="14.5"/>
<circle cx="1539.2" cy="1073.2" r="15.3"/>
<circle cx="1672.4" cy="1073.2" r="14.3"/>
<circle cx="1664.2" cy="1109.6" r="13.6"/>
<circle cx="1656" cy="1143" r="13.7"/>
<circle cx="1564.2" cy="1145.7" r="15.1"/>
<circle cx="1514" cy="1134.6" r="16.3"/>
<circle cx="1514.3" cy="1137.9" r="14.1"/>
<circle cx="1564.1" cy="1175.8" r="14.0"/>
<circle cx="1572.5" cy="1227.1" r="13.5"/>
<circle cx="1565.2" cy="1242.3" r="13.7"/>
<circle cx="1556.2" cy="1249" r="15.3"/>
<circle cx="1472.4" cy="1242.1" r="14.0"/>
<circle cx="1506" cy="1269.6" r="15.4"/>
<circle cx="1714.3" cy="1188.1" r="14.0"/>
<circle cx="1672.4" cy="1212" r="13.1"/>
<circle cx="1664.2" cy="1239.4" r="13.7"/>
<circle cx="1722.3" cy="1233.6" r="13.2"/>
<circle cx="1664.2" cy="1296.8" r="13.1"/>
<circle cx="1739.3" cy="1290.8" r="13.0"/>
<circle cx="1755.7" cy="1314.9" r="12.3"/>
<circle cx="1789.3" cy="1311.7" r="12.3"/>
<circle cx="1572.5" cy="1329.8" r="13.4"/>
<circle cx="1414.4" cy="1357.4" r="13.9"/>
<circle cx="1539.2" cy="1363.3" r="13.2"/>
<circle cx="1672.4" cy="1360" r="13.2"/>
<circle cx="1747.3" cy="1360.1" r="12.5"/>
<circle cx="1855.8" cy="1179.1" r="13.1"/>
<circle cx="1831" cy="1348" r="12.4"/>
<circle cx="1905.6" cy="1378.4" r="12.1"/>
<circle cx="1922.3" cy="1396.7" r="12.1"/>
<circle cx="1839.1" cy="1434.5" r="12.1"/>
<circle cx="1780.8" cy="1861.4" r="12.0"/>
<circle cx="1822.3" cy="1861.4" r="11.5"/>
<circle cx="1930.6" cy="1825" r="11.5"/>
<circle cx="1272.9" cy="1299.9" r="16.9"/>
</g>
<g font-family="Liberation Sans, sans-serif" font-size="38.4" fill="#6a6a6a">
<text x="313.6" y="749.65" text-anchor="end">6</text>
<text x="313.6" y="1051.71" text-anchor="end">5</text>
<text x="313.6" y="1353.77" text-anchor="end">4</text>
<text x="313.6" y="1655.83" text-anchor="end">3</text>
<text x="313.6" y="1957.88" text-anchor="end">2</text>
<text x="313.6" y="2259.94" text-anchor="end">1</text>
<text x="313.6" y="2562.00" text-anchor="end">0</text>
<text x="348.30" y="2619.2" text-anchor="middle">-4.0 °C</text>
<text x="514.90" y="2619.2" text-anchor="middle">-2.0 °C</text>
<text x="681.50" y="2619.2" text-anchor="middle">0.0 °C</text>
<text x="848.10" y="2619.2" text-anchor="middle">2.0 °C</text>
<text x="1014.70" y="2619.2" text-anchor="middle">4.0 °C</text>
<text x="1181.30" y="2619.2" text-anchor="middle">6.0 °C</text>
<text x="1347.90" y="2619.2" text-anchor="middle">8.0 °C</text>
<text x="1514.50" y="2619.2" text-anchor="middle">10.0 °C</text>
<text x="1681.10" y="2619.2" text-anchor="middle">12.0 °C</text>
<text x="1847.70" y="2619.2" text-anchor="middle">14.0 °C</text>
<text x="2014.30" y="2619.2" text-anchor="middle">16.0 °C</text>
</g>
</svg>
</body>
</html>
